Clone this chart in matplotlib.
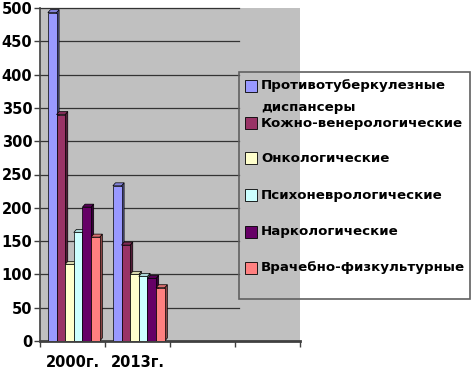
import matplotlib.pyplot as plt
import matplotlib.colors as mcolors
from matplotlib.patches import Rectangle

years = ["2000г.", "2013г."]
series_names = ["Противотуберкулезные\nдиспансеры", "Кожно-венерологические",
                "Онкологические", "Психоневрологические",
                "Наркологические", "Врачебно-физкультурные"]
values_2000 = [493, 340, 115, 163, 201, 156]
values_2013 = [233, 144, 100, 97, 94, 80]
colors = ["#9999FF", "#993366", "#FFFFCC", "#CCFFFF", "#660066", "#FF8080"]

W, H = 474, 371
fig = plt.figure(figsize=(W / 100, H / 100), dpi=100)
ax = fig.add_axes([40 / W, 30 / H, 260 / W, 333 / H])
ax.set_facecolor("#C0C0C0")
ax.set_xlim(0, 4)
ax.set_ylim(0, 500)

# gridlines stop at legend edge
legend_x0 = (239 - 40) / 260
for yv in range(50, 501, 50):
    ax.axhline(yv, xmin=0, xmax=legend_x0, color="#333333", lw=0.9,
               zorder=1, clip_on=False)

pitch = 0.133
dx = 0.04
dy = 4.5


def darker(c, f=0.55):
    r, g, b = mcolors.to_rgb(c)
    return (r * f, g * f, b * f)


groups = [values_2000, values_2013]
for gi, vals in enumerate(groups):
    start = gi + 0.52 - pitch * len(vals) / 2
    for i, v in enumerate(vals):
        x0 = start + i * pitch
        x1 = x0 + pitch
        z = 3 + i * 3
        ax.fill([x1, x1 + dx, x1 + dx, x1], [0, dy, v + dy, v],
                color=darker(colors[i]), ec="black", lw=0.5, zorder=z)
        ax.fill([x0, x0 + dx, x1 + dx, x1], [v, v + dy, v + dy, v],
                color=darker(colors[i], 0.85), ec="black", lw=0.5, zorder=z + 1)
        ax.bar(x0, v, width=pitch, align="edge", color=colors[i],
               edgecolor="black", lw=0.5, zorder=z + 2)

for s in ["top", "right"]:
    ax.spines[s].set_visible(False)
ax.spines["left"].set_color("#404040")
ax.spines["left"].set_linewidth(1.2)
ax.spines["bottom"].set_color("#404040")
ax.spines["bottom"].set_linewidth(2)

ax.set_yticks(range(0, 501, 50))
ax.tick_params(axis="y", length=4, width=1, color="#404040", pad=1.5,
               labelsize=10.5)
for t in ax.get_yticklabels():
    t.set_fontweight("bold")

ax.set_xticks([0, 1, 2, 3, 4])
ax.set_xticklabels([])
ax.set_xticks([0.5, 1.5], years, minor=True)
ax.tick_params(axis="x", which="major", length=4, width=1, color="#404040")
ax.tick_params(axis="x", which="minor", length=0, pad=10, labelsize=10.5)
for t in ax.get_xticklabels(minor=True):
    t.set_fontweight("bold")

# legend drawn by hand to keep Excel's layout
fig.patches.append(Rectangle((239 / W, (H - 299) / H), 231 / W, 227 / H,
                             transform=fig.transFigure, fill=False,
                             ec="#606060", lw=1.2, zorder=20))
entry_y = [86, 123, 158, 195, 232, 268]
for i, name in enumerate(series_names):
    yc = entry_y[i]
    fig.patches.append(Rectangle((245 / W, (H - yc - 6) / H), 12 / W, 12 / H,
                                 transform=fig.transFigure, fc=colors[i],
                                 ec="black", lw=0.6, zorder=21))
    fig.text(261 / W, (H - yc) / H, name.split("\n")[0], fontsize=9.6,
             fontweight="bold", va="center", ha="left", zorder=21)
    if "\n" in name:
        fig.text(261 / W, (H - yc - 21) / H, name.split("\n")[1], fontsize=9.6,
                 fontweight="bold", va="center", ha="left", zorder=21)

fig.savefig("out.png", dpi=100)
